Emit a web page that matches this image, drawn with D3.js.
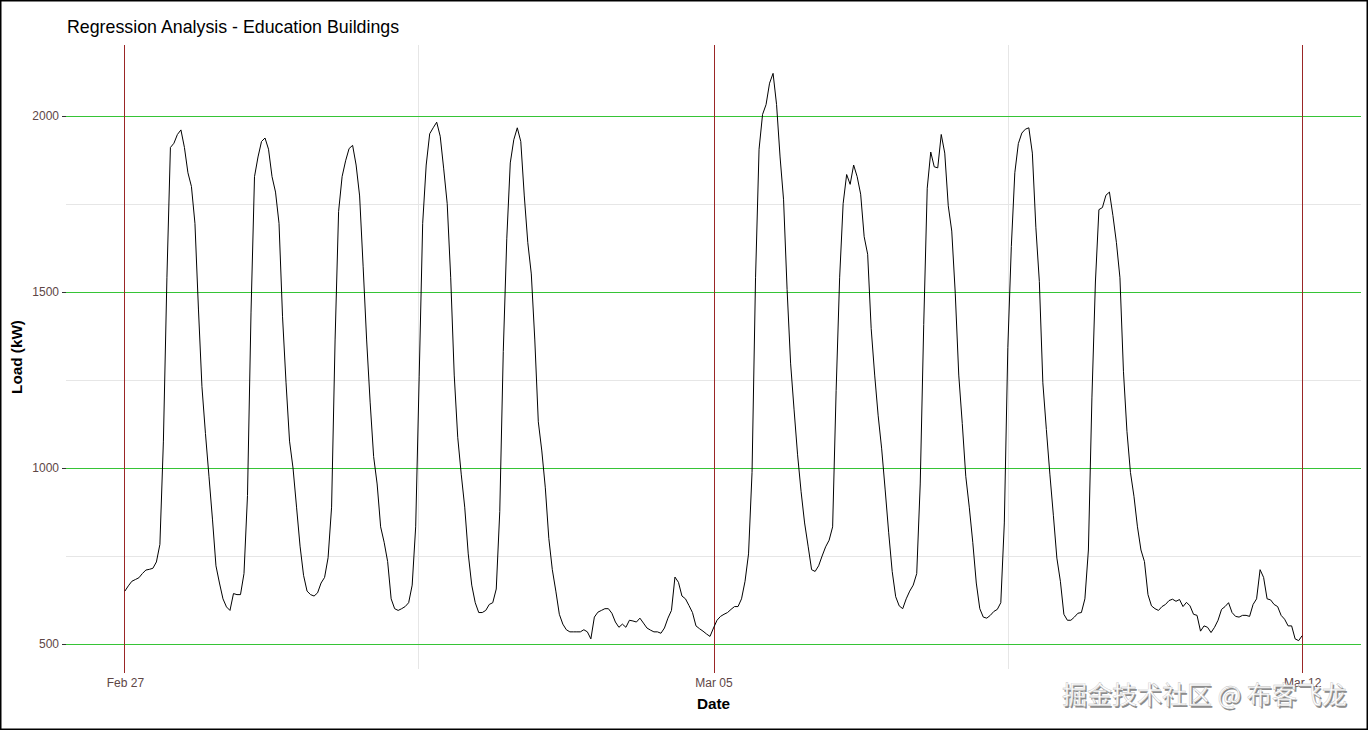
<!DOCTYPE html>
<html><head><meta charset="utf-8">
<script src="https://cdn.jsdelivr.net/npm/d3@7"></script>
<style>body{margin:0;background:#fff} svg{display:block}</style>
</head><body><svg id="chart" width="1368" height="730"></svg>
<script>
// ---------------- data ----------------
const chartTitle = "Regression Analysis - Education Buildings";
const xTitle = "Date";
const yTitle = "Load (kW)";
const watermarkText = "掘金技术社区 @ 布客飞龙";
const seriesStart = "2012-02-27T00:00:00Z"; // hourly readings
const stepHours = 1;
// Week 1: Mon Feb 27 – Sun Mar 04 (hourly, kW)
const loadWeek1 = [
  650,665,678,683,688,700,710,712,715,733,783,1077,1542,1913,1925,1950,1963,1913,1841,1802,1697,1453,1232,1099,
  977,855,722,673,628,605,595,643,640,640,700,922,1442,1830,1886,1930,1940,1908,1830,1786,1697,1431,1243,1077,
  1000,889,778,695,650,640,636,645,673,689,745,889,1365,1731,1830,1875,1910,1919,1863,1775,1575,1365,1188,1033,
  955,833,789,734,628,600,595,600,606,617,667,833,1260,1697,1863,1952,1969,1985,1945,1852,1753,1542,1265,1088,
  983,889,756,667,617,589,589,595,612,617,656,877,1332,1653,1869,1935,1969,1930,1775,1642,1553,1365,1132,1049,
  944,800,711,650,584,556,540,534,534,534,534,540,534,514,576,590,595,600,600,587,562,547,556,547,
  567,565,562,573,559,545,539,534,534,530,545,573,595,690,675,636,628,609,589,551,543,536,528,521
];
// Week 2: Mon Mar 05 – Sun Mar 11, plus Mar 12 00:00 (hourly, kW)
const loadWeek2 = [
  545,567,578,584,589,598,606,606,628,678,756,988,1542,1908,2007,2035,2096,2124,2035,1886,1764,1509,1299,1166,
  1038,933,844,778,711,706,722,750,776,795,833,1221,1542,1753,1836,1808,1863,1830,1780,1659,1609,1398,1265,1149,
  1055,938,816,706,634,608,600,628,650,667,700,955,1409,1797,1900,1858,1855,1950,1897,1747,1675,1498,1265,1127,
  977,889,789,673,600,576,573,581,592,598,617,844,1343,1631,1841,1924,1954,1965,1969,1897,1686,1531,1243,1110,
  983,866,744,678,584,567,567,576,587,589,628,767,1200,1530,1736,1742,1777,1786,1719,1642,1542,1276,1105,988,
  920,833,767,734,640,608,600,595,606,612,623,627,621,626,606,618,608,584,581,536,551,547,532,547,
  567,598,606,617,589,578,576,581,581,578,612,628,711,689,628,625,612,606,581,570,551,551,514,509,
  523
];
const xMajorDates = ["2012-02-27T00:00:00Z", "2012-03-05T00:00:00Z", "2012-03-12T00:00:00Z"];
const xMajorLabels = ["Feb 27", "Mar 05", "Mar 12"];
const xMinorDates = ["2012-03-01T12:00:00Z", "2012-03-08T12:00:00Z"];
const yMajorTicks = [500, 1000, 1500, 2000];
const yMinorTicks = [750, 1250, 1750];

// ---------------- chart ----------------
const svg = d3.select("#chart");
const W = 1368, H = 730;
const panel = {left: 66, right: 1361, top: 45, bottom: 669};

const t0 = new Date(seriesStart).getTime();
const values = loadWeek1.concat(loadWeek2);
const data = values.map((v, i) => ({date: new Date(t0 + i * stepHours * 3600e3), value: v}));

const xExt = d3.extent(data, d => d.date.getTime());
const xPad = (xExt[1] - xExt[0]) * 0.05;
const x = d3.scaleUtc().domain([new Date(xExt[0] - xPad), new Date(xExt[1] + xPad)]).range([panel.left, panel.right]);
const yExt = d3.extent(data, d => d.value);
const yPad = (yExt[1] - yExt[0]) * 0.05;
const y = d3.scaleLinear().domain([yExt[0] - yPad, yExt[1] + yPad]).range([panel.bottom, panel.top]);
// snap thin coloured rules to the pixel grid so they stay crisp and keep their colour
const snap = v => 2 * Math.round((v - 0.5) / 2) + 0.5;

svg.append("rect").attr("width", W).attr("height", H).attr("fill", "#fff");

const redColor = "#9a2626";
const greenColor = "#36c436";
const grid = svg.append("g").attr("shape-rendering", "crispEdges");
// minor grid
grid.append("g").selectAll("line").data(yMinorTicks).join("line")
  .attr("x1", panel.left).attr("x2", panel.right)
  .attr("y1", d => snap(y(d))).attr("y2", d => snap(y(d)))
  .attr("stroke", "#e6e6e6").attr("stroke-width", 1);
grid.append("g").selectAll("line").data(xMinorDates).join("line")
  .attr("x1", d => snap(x(new Date(d)))).attr("x2", d => snap(x(new Date(d))))
  .attr("y1", panel.top).attr("y2", panel.bottom)
  .attr("stroke", "#e6e6e6").attr("stroke-width", 1);
// major grid
grid.append("g").selectAll("line").data(yMajorTicks).join("line")
  .attr("x1", panel.left).attr("x2", panel.right)
  .attr("y1", d => snap(y(d))).attr("y2", d => snap(y(d)))
  .attr("stroke", greenColor).attr("stroke-width", 1);
grid.append("g").selectAll("line").data(xMajorDates).join("line")
  .attr("x1", d => snap(x(new Date(d)))).attr("x2", d => snap(x(new Date(d))))
  .attr("y1", panel.top).attr("y2", panel.bottom + 4)
  .attr("stroke", redColor).attr("stroke-width", 1);

// series
const line = d3.line().x(d => x(d.date)).y(d => y(d.value));
svg.append("path").datum(data).attr("d", line)
  .attr("fill", "none").attr("stroke", "#000").attr("stroke-width", 1).attr("stroke-linejoin", "round");

// axes
const tickColor = "#5e4646";
const yAxis = svg.append("g").attr("transform", `translate(${panel.left},0)`)
  .call(d3.axisLeft(y).tickValues(yMajorTicks).tickSize(4).tickPadding(3).tickFormat(d3.format("d")));
yAxis.select(".domain").remove();
yAxis.selectAll(".tick").attr("transform", d => `translate(0,${snap(y(d))})`);
yAxis.selectAll(".tick line").attr("stroke", "#333").attr("shape-rendering", "crispEdges");
yAxis.selectAll(".tick text").attr("fill", tickColor).style("font-family", "Liberation Sans, Arial, sans-serif").style("font-size", "12px");

const xAxis = svg.append("g").attr("transform", `translate(0,${panel.bottom})`)
  .call(d3.axisBottom(x).tickValues(xMajorDates.map(d => new Date(d))).tickSize(0).tickPadding(9)
    .tickFormat((d, i) => xMajorLabels[i]));
xAxis.select(".domain").remove();
xAxis.selectAll(".tick text").attr("fill", tickColor).style("font-family", "Liberation Sans, Arial, sans-serif").style("font-size", "12px");

// titles
svg.append("text").attr("x", 67).attr("y", 33).text(chartTitle)
  .style("font-family", "Liberation Sans, Arial, sans-serif").style("font-size", "17.8px").attr("fill", "#000");
svg.append("text").attr("x", (panel.left + panel.right) / 2).attr("y", 709).attr("text-anchor", "middle").text(xTitle)
  .style("font-family", "Liberation Sans, Arial, sans-serif").style("font-size", "15.3px").style("font-weight", "bold");
svg.append("text").attr("transform", `translate(22,${(panel.top + panel.bottom) / 2}) rotate(-90)`).attr("text-anchor", "middle").text(yTitle)
  .style("font-family", "Liberation Sans, Arial, sans-serif").style("font-size", "15.3px").style("font-weight", "bold");

// watermark
const wm = svg.append("g").style("font-family", "Noto Sans CJK SC, sans-serif").style("font-size", "25px");
wm.append("text").attr("x", 1063.5).attr("y", 705.5).text(watermarkText).attr("fill", "#8c8c8c");
wm.append("text").attr("x", 1062).attr("y", 704).text(watermarkText).attr("fill", "#ffffff").attr("stroke", "#bdbdbd").attr("stroke-width", 0.4);

// outer border
svg.append("rect").attr("x", 0.75).attr("y", 0.75).attr("width", W - 1.5).attr("height", H - 1.5)
  .attr("fill", "none").attr("stroke", "#000").attr("stroke-width", 1.5);
</script></body></html>
